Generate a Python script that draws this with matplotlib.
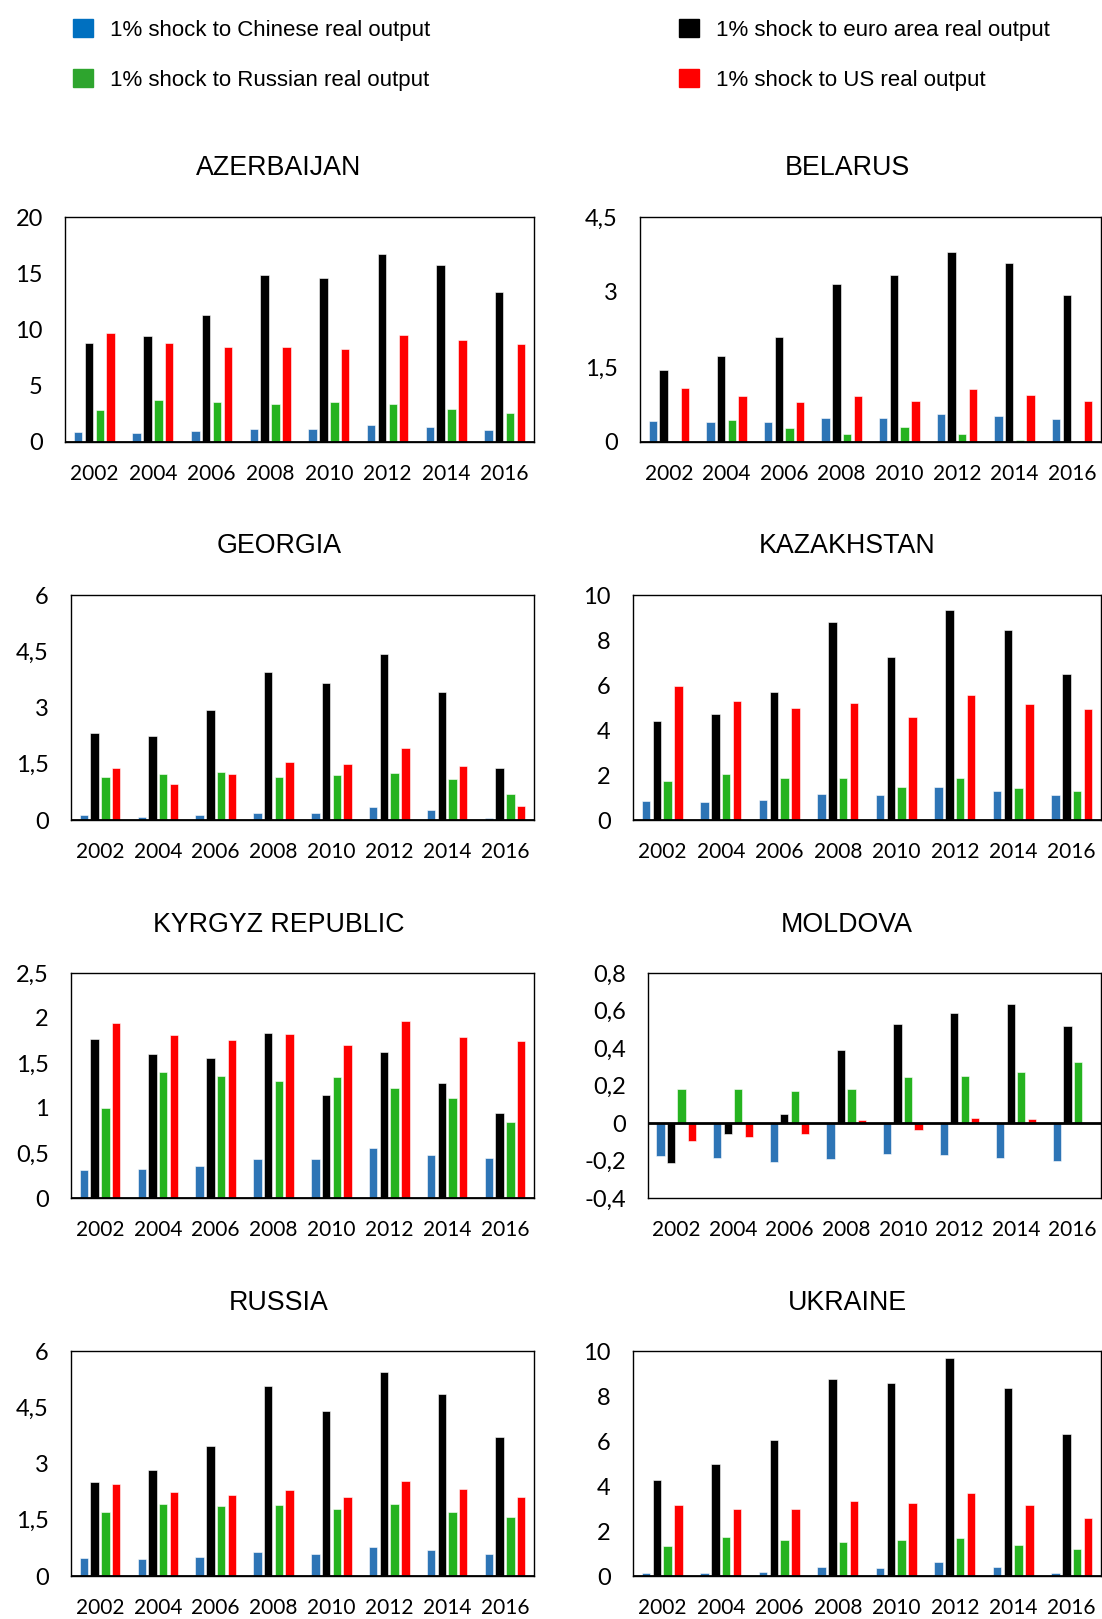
import matplotlib
matplotlib.use('Agg')
import matplotlib.pyplot as plt
import numpy as np
from matplotlib.patches import Patch

years = ['2002', '2004', '2006', '2008', '2010', '2012', '2014', '2016']
series_labels = ['1% shock to Chinese real output', '1% shock to euro area real output',
                 '1% shock to Russian real output', '1% shock to US real output']

# AZERBAIJAN
aze_cn = [0.89, 0.80, 0.95, 1.18, 1.12, 1.48, 1.36, 1.09]
aze_ea = [8.77, 9.45, 11.3, 14.8, 14.6, 16.7, 15.7, 13.35]
aze_ru = [2.8, 3.72, 3.57, 3.37, 3.55, 3.4, 2.9, 2.6]
aze_us = [9.7, 8.77, 8.48, 8.48, 8.3, 9.54, 9.1, 8.69]
aze_yticks = [0, 5, 10, 15, 20]

# BELARUS
blr_cn = [0.41, 0.39, 0.40, 0.47, 0.47, 0.56, 0.51, 0.45]
blr_ea = [1.43, 1.71, 2.10, 3.16, 3.34, 3.80, 3.57, 2.94]
blr_ru = [0.01, 0.44, 0.27, 0.15, 0.30, 0.15, 0.03, -0.05]
blr_us = [1.07, 0.92, 0.80, 0.92, 0.82, 1.06, 0.94, 0.82]
blr_yticks = [0, 1.5, 3, 4.5]

# GEORGIA
geo_cn = [0.14, 0.09, 0.13, 0.20, 0.20, 0.35, 0.27, 0.05]
geo_ea = [2.32, 2.24, 2.93, 3.94, 3.66, 4.42, 3.41, 1.38]
geo_ru = [1.15, 1.22, 1.29, 1.15, 1.20, 1.25, 1.10, 0.70]
geo_us = [1.38, 0.97, 1.23, 1.54, 1.50, 1.92, 1.44, 0.38]
geo_yticks = [0, 1.5, 3, 4.5, 6]

# KAZAKHSTAN
kaz_cn = [0.86, 0.78, 0.87, 1.17, 1.11, 1.46, 1.30, 1.09]
kaz_ea = [4.41, 4.70, 5.67, 8.82, 7.25, 9.35, 8.43, 6.49]
kaz_ru = [1.72, 2.03, 1.85, 1.88, 1.48, 1.85, 1.43, 1.29]
kaz_us = [5.95, 5.27, 4.97, 5.21, 4.59, 5.56, 5.16, 4.94]
kaz_yticks = [0, 2, 4, 6, 8, 10]

# KYRGYZ REPUBLIC
kgz_cn = [0.31, 0.32, 0.355, 0.43, 0.43, 0.56, 0.48, 0.44]
kgz_ea = [1.77, 1.60, 1.56, 1.83, 1.14, 1.62, 1.28, 0.94]
kgz_ru = [1.00, 1.40, 1.36, 1.30, 1.34, 1.22, 1.11, 0.85]
kgz_us = [1.94, 1.81, 1.76, 1.82, 1.70, 1.97, 1.79, 1.74]
kgz_yticks = [0, 0.5, 1, 1.5, 2, 2.5]

# MOLDOVA
mda_cn = [-0.177, -0.184, -0.206, -0.19, -0.163, -0.172, -0.186, -0.20]
mda_ea = [-0.215, -0.059, 0.048, 0.387, 0.529, 0.589, 0.637, 0.52]
mda_ru = [0.183, 0.183, 0.172, 0.179, 0.243, 0.252, 0.27, 0.328]
mda_us = [-0.096, -0.073, -0.057, 0.014, -0.037, 0.027, 0.02, 0.0]
mda_yticks = [-0.4, -0.2, 0, 0.2, 0.4, 0.6, 0.8]

# RUSSIA
rus_cn = [0.48, 0.46, 0.52, 0.63, 0.58, 0.77, 0.70, 0.58]
rus_ea = [2.50, 2.83, 3.46, 5.08, 4.40, 5.45, 4.86, 3.72]
rus_ru = [1.70, 1.91, 1.88, 1.90, 1.80, 1.91, 1.72, 1.58]
rus_us = [2.46, 2.25, 2.15, 2.29, 2.10, 2.53, 2.32, 2.12]
rus_yticks = [0, 1.5, 3, 4.5, 6]

# UKRAINE
ukr_cn = [0.15, 0.12, 0.19, 0.39, 0.37, 0.61, 0.39, 0.12]
ukr_ea = [4.25, 4.99, 6.06, 8.76, 8.56, 9.70, 8.34, 6.31]
ukr_ru = [1.32, 1.72, 1.61, 1.53, 1.60, 1.67, 1.36, 1.19]
ukr_us = [3.17, 3.00, 2.98, 3.32, 3.24, 3.70, 3.14, 2.59]
ukr_yticks = [0, 2, 4, 6, 8, 10]

panels = [
    ('AZERBAIJAN', [aze_cn, aze_ea, aze_ru, aze_us], aze_yticks),
    ('BELARUS', [blr_cn, blr_ea, blr_ru, blr_us], blr_yticks),
    ('GEORGIA', [geo_cn, geo_ea, geo_ru, geo_us], geo_yticks),
    ('KAZAKHSTAN', [kaz_cn, kaz_ea, kaz_ru, kaz_us], kaz_yticks),
    ('KYRGYZ REPUBLIC', [kgz_cn, kgz_ea, kgz_ru, kgz_us], kgz_yticks),
    ('MOLDOVA', [mda_cn, mda_ea, mda_ru, mda_us], mda_yticks),
    ('RUSSIA', [rus_cn, rus_ea, rus_ru, rus_us], rus_yticks),
    ('UKRAINE', [ukr_cn, ukr_ea, ukr_ru, ukr_us], ukr_yticks),
]

bar_colors = ['#2E75B6', '#000000', '#25B31F', '#FF0000']
legend_colors = ['#0070C0', '#000000', '#2EA52E', '#FF0000']

W, H = 1102, 1619
fig = plt.figure(figsize=(W / 100, H / 100), dpi=100)

# axes boxes in pixels
left_px = [65, 640, 71, 633, 71, 648, 71, 633]
row_tops = [217, 595, 973, 1351]
ax_h = 225

tick_font = ['Lato', 'DejaVu Sans']
narrow_font = ['Liberation Sans Narrow', 'Liberation Sans', 'DejaVu Sans']


def fmt(v):
    return ('%g' % v).replace('.', ',')


x = np.arange(len(years))
bw = 0.145
offsets = [-0.278, -0.093, 0.093, 0.278]

for i, (name, series, yt) in enumerate(panels):
    col = i % 2
    row = i // 2
    l = left_px[i]
    r = 534 if col == 0 else 1101
    top = row_tops[row]
    ax = fig.add_axes([l / W, 1 - (top + ax_h) / H, (r - l) / W, ax_h / H])
    for k in range(4):
        ax.bar(x + offsets[k], series[k], width=bw, color=bar_colors[k],
               edgecolor='white', linewidth=0.4, zorder=2)
    ax.axhline(0, color='black', lw=2, zorder=3)
    ax.set_xlim(-0.5, 7.5)
    ax.set_ylim(yt[0], yt[-1])
    ax.set_yticks(yt)
    ax.set_yticklabels([fmt(v) for v in yt], fontfamily=tick_font, fontsize=17)
    ax.set_xticks(x)
    ax.set_xticklabels(years, fontfamily=tick_font, fontsize=15)
    ax.tick_params(axis='y', length=0, pad=16)
    ax.tick_params(axis='x', length=0, pad=16)
    for sp in ax.spines.values():
        sp.set_linewidth(1.0)
        sp.set_color('black')
    tx = 279 if col == 0 else 847
    ty = [168, 546, 925, 1303][row]
    fig.text(tx / W, 1 - ty / H, name, ha='center', va='center',
             fontsize=19.3, fontfamily=narrow_font)

# legends
h_left = [Patch(color=legend_colors[0]), Patch(color=legend_colors[2])]
h_right = [Patch(color=legend_colors[1]), Patch(color=legend_colors[3])]
leg_kw = dict(frameon=False, handlelength=0.9, handleheight=0.9, handletextpad=0.75,
              labelspacing=1.25, prop={'family': narrow_font, 'size': 16}, loc='upper left',
              borderaxespad=0, borderpad=0)
fig.legend(h_left, [series_labels[0], series_labels[2]],
           bbox_to_anchor=(73 / W, 1 - 19 / H), **leg_kw)
fig.legend(h_right, [series_labels[1], series_labels[3]],
           bbox_to_anchor=(679 / W, 1 - 19 / H), **leg_kw)

fig.savefig('out.png', dpi=100)
